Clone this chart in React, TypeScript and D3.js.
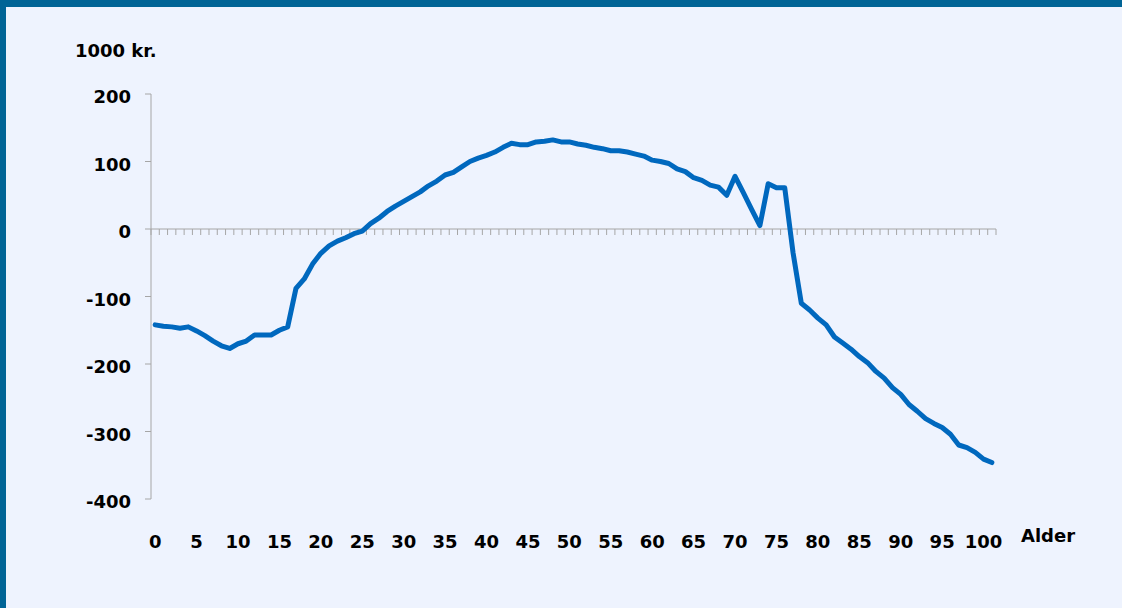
import React from "react";
import * as d3 from "d3";

const ages: number[] = Array.from({ length: 102 }, (_, i) => i);
const values: number[] = [
  -142, -144, -145, -147, -145, -151, -158, -166, -173, -177,
  -170, -166, -157, -157, -157, -150, -145, -88, -74, -52,
  -36, -25, -18, -13, -7, -3, 8, 16, 26, 34,
  41, 48, 55, 64, 71, 80, 84, 92, 100, 105,
  109, 114, 121, 127, 125, 125, 129, 130, 132, 129,
  129, 126, 124, 121, 119, 116, 116, 114, 111, 108,
  102, 100, 97, 89, 85, 76, 72, 65, 62, 50,
  78, 54, 29, 5, 67, 61, 61, -35, -110, -120,
  -132, -142, -160, -169, -178, -189, -198, -211, -221, -235,
  -245, -260, -270, -281, -288, -294, -304, -320, -324, -331,
  -341, -346,
];
const yTicks: number[] = [-400, -300, -200, -100, 0, 100, 200];
const xLabelAges: number[] = ages.filter((a) => a % 5 === 0);
const yUnitLabel = "1000 kr.";
const xAxisTitle = "Alder";

const W = 1122;
const H = 608;
const FONT = "'DejaVu Sans', sans-serif";

export default function App() {
  const x = d3.scaleBand<number>().domain(ages).range([151, 996]).paddingInner(0).paddingOuter(0);
  const bw = x.bandwidth();
  const cx = (a: number) => (x(a) as number) + bw / 2;
  const y = d3.scaleLinear().domain([-400, 200]).range([499, 94]);
  const line = d3
    .line<number>()
    .x((_, i) => cx(ages[i]))
    .y((d) => y(d))
    .curve(d3.curveLinear);
  const tickXs = d3.range(ages.length + 1).map((k) => 151 + k * bw);
  const axisColor = "#A6A6A6";

  return (
    <div style={{ position: "fixed", left: 0, top: 0, width: W, height: H }}>
      <svg width={W} height={H} style={{ display: "block" }}>
        <rect x={0} y={0} width={W} height={H} fill="#EEF3FE" />
        <rect x={0} y={0} width={W} height={7} fill="#006496" />
        <rect x={0} y={0} width={6} height={H} fill="#006496" />

        <text x={75} y={57} fontFamily={FONT} fontWeight="bold" fontSize={18} fill="#000">
          {yUnitLabel}
        </text>

        {/* y axis */}
        <line x1={151} x2={151} y1={y(200)} y2={y(-400)} stroke={axisColor} strokeWidth={1} />
        {yTicks.map((t) => (
          <g key={t}>
            <line x1={145} x2={151} y1={y(t)} y2={y(t)} stroke={axisColor} strokeWidth={1} />
            <text
              x={131}
              y={y(t) + 9}
              textAnchor="end"
              fontFamily={FONT}
              fontWeight="bold"
              fontSize={18}
              fill="#000"
            >
              {t}
            </text>
          </g>
        ))}

        {/* x axis at zero */}
        <line x1={151} x2={996} y1={y(0)} y2={y(0)} stroke={axisColor} strokeWidth={1} />
        {tickXs.map((tx, i) => (
          <line key={i} x1={tx} x2={tx} y1={y(0)} y2={y(0) + 6} stroke={axisColor} strokeWidth={1} />
        ))}
        {xLabelAges.map((a) => (
          <text
            key={a}
            x={cx(a)}
            y={548}
            textAnchor="middle"
            fontFamily={FONT}
            fontWeight="bold"
            fontSize={18}
            fill="#000"
          >
            {a}
          </text>
        ))}
        <text x={1021} y={542} fontFamily={FONT} fontWeight="bold" fontSize={18} fill="#000">
          {xAxisTitle}
        </text>

        <path
          d={line(values) || ""}
          fill="none"
          stroke="#0068BE"
          strokeWidth={5}
          strokeLinejoin="round"
          strokeLinecap="round"
        />
      </svg>
    </div>
  );
}
